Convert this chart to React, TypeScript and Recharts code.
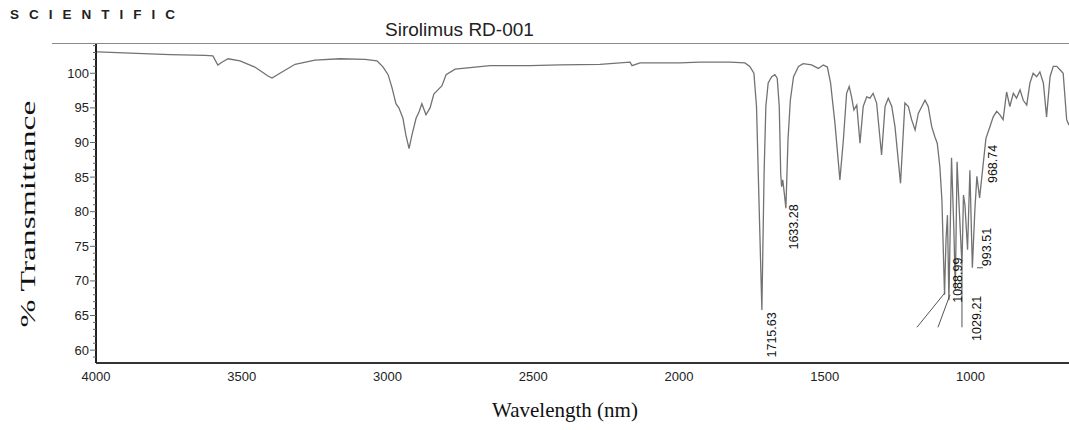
import React from "react";
import {
  ComposedChart,
  Line,
  Scatter,
  XAxis,
  YAxis,
  ReferenceLine,
} from "recharts";

// wavenumber (x) and % transmittance (y)
const wavenumbers = [
  4000, 3993, 3883, 3746, 3626, 3599, 3582, 3568, 3547, 3506, 3455, 3410, 3396,
  3369, 3317, 3249, 3163, 3077, 3036, 3015, 2998, 2985, 2971, 2961, 2947, 2937,
  2926, 2916, 2902, 2892, 2882, 2868, 2854, 2841, 2827, 2813, 2799, 2768, 2648,
  2511, 2408, 2271, 2168, 2161, 2134, 1997, 1928, 1825, 1774, 1757, 1743, 1734,
  1725, 1715.63, 1708, 1702, 1694, 1682, 1671, 1663, 1656, 1651, 1648, 1644,
  1638, 1633.28, 1626, 1618, 1607, 1590, 1574, 1545, 1522, 1505, 1491, 1480,
  1465, 1448, 1436, 1425, 1416, 1408, 1400, 1390, 1379, 1368, 1356, 1345, 1334,
  1322, 1305, 1293, 1282, 1270, 1259, 1240, 1225, 1213, 1202, 1190, 1179, 1167,
  1156, 1145, 1133, 1122, 1114, 1105, 1098, 1088.99, 1084, 1079, 1074, 1065,
  1057, 1052, 1046, 1040, 1029.21, 1024, 1019, 1010, 1002, 993.51, 985, 978,
  968.74, 947, 933, 922, 910, 899, 888, 876, 865, 853, 842, 830, 819, 807, 796,
  785, 773, 762, 750, 739, 727, 716, 704, 693, 682, 670, 662,
];
const transmittance = [
  103.1, 103.1, 102.9, 102.7, 102.6, 102.5, 101.2, 101.6, 102.1, 101.8, 100.9,
  99.6, 99.3, 100.0, 101.3, 101.9, 102.1, 102.0, 101.8, 100.9, 99.8, 98.0, 95.6,
  95.0, 93.5, 91.1, 89.1, 91.1, 93.5, 94.4, 95.6, 94.0, 95.0, 97.0, 97.6, 98.2,
  99.8, 100.6, 101.1, 101.1, 101.2, 101.3, 101.6, 101.1, 101.5, 101.5, 101.6,
  101.6, 101.5, 101.0, 100.0, 95.2, 80.7, 65.8, 85.6, 95.2, 98.6, 99.5, 99.8,
  99.3, 95.2, 85.5, 83.6, 84.6, 82.4, 80.5, 90.4, 96.1, 99.5, 101.0, 101.4,
  101.2, 100.7, 101.2, 100.9, 98.6, 92.8, 84.6, 90.4, 97.1, 98.1, 96.6, 94.7,
  95.4, 89.9, 95.2, 96.6, 96.4, 97.1, 95.7, 88.2, 95.2, 96.4, 95.2, 92.3, 84.1,
  95.7, 95.2, 93.3, 91.8, 94.2, 95.2, 96.1, 95.2, 92.3, 90.8, 89.9, 86.5, 81.7,
  68.0, 75.9, 79.5, 67.2, 87.8, 77.4, 68.7, 87.2, 81.7, 72.3, 82.4, 81.0, 74.5,
  86.0, 71.9, 80.2, 85.1, 82.0, 90.6, 92.3, 93.7, 94.5, 94.0, 93.3, 97.3, 95.2,
  97.1, 96.4, 97.6, 96.1, 95.4, 98.6, 100.0, 99.5, 100.2, 98.6, 93.7, 99.5,
  101.0, 101.0, 100.5, 100.0, 93.3, 92.5,
];

// peak annotations: text and where the text sits
const peakNames = ["1715.63", "1633.28", "1088.99", "1029.21", "993.51", "968.74"];
const peakLabelW = [1681, 1605.5, 1043, 977.7, 943.4, 922.8];
const peakLabelT = [62.2, 77.8, 70.1, 64.6, 74.9, 86.9];

// leader lines [w1, T1, w2, T2]
const leaders = [
  [1183.6, 63.3, 1087.5, 68.3],
  [1111.5, 63.3, 1070.3, 68.0],
  [1029.21, 72.3, 1029.21, 63.3],
  [977.7, 71.9, 957.1, 71.9],
];

const xTicks = [4000, 3500, 3000, 2500, 2000, 1500, 1000];
const yTicks = Array.from({ length: 46 }, (_, i) => 59 + i);

const spectrum = wavenumbers.map((w, i) => ({ w, T: transmittance[i] }));
const peakData = peakNames.map((label, i) => ({
  w: peakLabelW[i],
  T: peakLabelT[i],
  label,
}));

const YTick = (props: any) => {
  const { x, y, payload } = props;
  const v = payload.value;
  const major = v % 5 === 0 && v <= 100;
  return (
    <g>
      <line
        x1={major ? x - 1 : x + 2}
        x2={x + 5}
        y1={y}
        y2={y}
        stroke="#666"
        strokeWidth={1}
      />
      {major && (
        <text
          x={x - 2}
          y={y}
          textAnchor="end"
          dominantBaseline="central"
          fontFamily="Liberation Sans, Arial, sans-serif"
          fontSize={13}
          fill="#222"
        >
          {v}
        </text>
      )}
    </g>
  );
};

const PeakText = (props: any) => {
  const { cx, cy, payload } = props;
  return (
    <text
      x={cx}
      y={cy}
      transform={`rotate(-90 ${cx} ${cy})`}
      textAnchor="middle"
      dominantBaseline="central"
      fontFamily="Liberation Sans, Arial, sans-serif"
      fontSize={12.5}
      fill="#111"
    >
      {payload.label}
    </text>
  );
};

export default function App() {
  return (
    <div
      style={{
        position: "absolute",
        left: 0,
        top: 0,
        width: 1069,
        height: 430,
        background: "#fff",
        overflow: "hidden",
      }}
    >
      <div
        style={{
          position: "absolute",
          left: 10,
          top: 7,
          fontFamily: "Liberation Sans, Arial, sans-serif",
          fontWeight: 700,
          fontSize: 13.5,
          letterSpacing: 10,
          color: "#222",
        }}
      >
        SCIENTIFIC
      </div>
      <div
        style={{
          position: "absolute",
          left: 385,
          top: 19,
          fontFamily: "Liberation Sans, Arial, sans-serif",
          fontSize: 19,
          color: "#222",
        }}
      >
        Sirolimus RD-001
      </div>
      <div
        style={{
          position: "absolute",
          left: 52,
          top: 43,
          width: 1017,
          borderTop: "1.5px solid #8a8a8a",
        }}
      />
      <ComposedChart
        width={1069}
        height={430}
        margin={{ top: 44, right: 0, bottom: 37, left: 46 }}
      >
        <XAxis
          dataKey="w"
          type="number"
          domain={[662, 4000]}
          reversed
          ticks={xTicks}
          allowDataOverflow
          tickLine={false}
          axisLine={{ stroke: "#333", strokeWidth: 2 }}
          tickMargin={3}
          tick={{
            fontFamily: "Liberation Sans, Arial, sans-serif",
            fontSize: 13,
            fill: "#222",
          }}
          height={30}
        />
        <YAxis
          type="number"
          domain={[58.14, 104.23]}
          ticks={yTicks}
          interval={0}
          allowDataOverflow
          width={50}
          tickSize={3}
          tickMargin={2}
          tickLine={false}
          axisLine={{ stroke: "#222", strokeWidth: 2 }}
          tick={<YTick />}
        />
        <Line
          data={spectrum}
          dataKey="T"
          type="linear"
          stroke="#727272"
          strokeWidth={1.3}
          dot={false}
          isAnimationActive={false}
        />
        {leaders.map((s, i) => (
          <ReferenceLine
            key={i}
            segment={[
              { x: s[0], y: s[1] },
              { x: s[2], y: s[3] },
            ]}
            stroke="#555"
            strokeWidth={1}
          />
        ))}
        <Scatter
          data={peakData}
          dataKey="T"
          shape={<PeakText />}
          isAnimationActive={false}
        />
      </ComposedChart>
      <div
        style={{
          position: "absolute",
          left: 28,
          top: 214,
          transform: "translate(-50%, -50%) rotate(-90deg) scaleX(1.6)",
          whiteSpace: "nowrap",
          fontFamily: "Liberation Serif, Times New Roman, serif",
          fontSize: 21,
          color: "#111",
        }}
      >
        % Transmittance
      </div>
      <div
        style={{
          position: "absolute",
          left: 565,
          top: 410,
          transform: "translate(-50%, -50%)",
          whiteSpace: "nowrap",
          fontFamily: "Liberation Serif, Times New Roman, serif",
          fontSize: 21,
          color: "#111",
        }}
      >
        Wavelength (nm)
      </div>
    </div>
  );
}
